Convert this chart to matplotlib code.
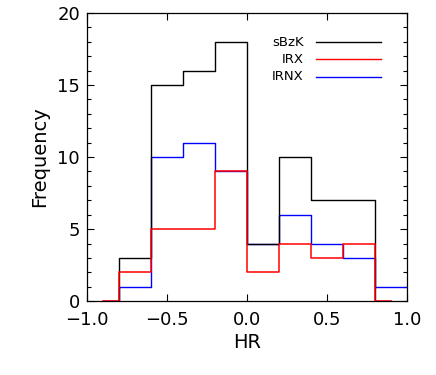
import matplotlib
matplotlib.use("Agg")
import matplotlib.pyplot as plt
from matplotlib.ticker import MultipleLocator, FuncFormatter

plt.rcParams['font.family'] = ['DejaVu Sans']

centers = [-0.9, -0.7, -0.5, -0.3, -0.1, 0.1, 0.3, 0.5, 0.7, 0.9]
sbzk = [0, 3, 15, 16, 18, 4, 10, 7, 7, 0]
irx = [0, 2, 5, 5, 9, 2, 4, 3, 4, 0]
irnx_centers = [-0.9, -0.7, -0.5, -0.3, -0.1, 0.1, 0.3, 0.5, 0.7, 0.9, 1.1]
irnx = [0, 1, 10, 11, 9, 4, 6, 4, 3, 1, 1]

legend_labels = ['sBzK', 'IRX', 'IRNX']
legend_colors = ['black', 'red', 'blue']

fig = plt.figure(figsize=(4.36, 3.75), dpi=100)
ax = fig.add_axes([0.1995, 0.197, 0.734, 0.7683])

ax.step(irnx_centers, irnx, where='mid', color='blue', lw=1.0, zorder=2)
ax.step(centers, sbzk, where='mid', color='black', lw=1.0, zorder=3)
ax.step(centers, irx, where='mid', color='red', lw=1.1, zorder=4)

ax.set_xlim(-1.0, 1.0)
ax.set_ylim(0, 20)
ax.xaxis.set_major_locator(MultipleLocator(0.5))
ax.yaxis.set_major_locator(MultipleLocator(5))
ax.yaxis.set_minor_locator(MultipleLocator(1))
ax.tick_params(axis='both', which='both', direction='in', top=True, right=True, labelsize=13)
ax.tick_params(axis='both', which='major', length=5, width=0.8)
ax.tick_params(axis='y', which='minor', length=3, width=0.8)
ax.tick_params(axis='x', which='major', pad=7)
ax.tick_params(axis='y', which='major', pad=5)
ax.xaxis.set_major_formatter(FuncFormatter(lambda v, p: ('\u2212' if v < -1e-9 else '') + f"{abs(v):.1f}"))
for s in ax.spines.values():
    s.set_linewidth(0.9)

ax.set_xlabel('HR', fontsize=14, labelpad=3)
ax.set_ylabel('Frequency', fontsize=14, labelpad=6)

ys = [0.898, 0.839, 0.779]
for lab, col, y in zip(legend_labels, legend_colors, ys):
    ax.text(0.678, y, lab, ha='right', va='center', fontsize=9.5, transform=ax.transAxes)
    ax.plot([0.716, 0.919], [y, y], color=col, lw=1.0, transform=ax.transAxes)

fig.savefig('out.png', dpi=100)
